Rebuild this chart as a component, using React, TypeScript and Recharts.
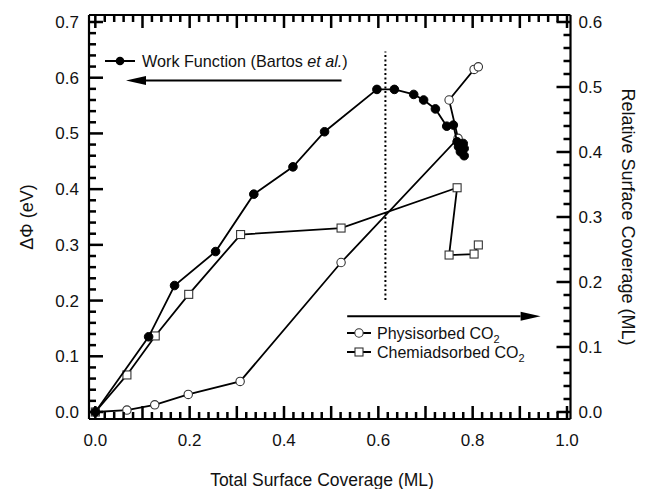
import React from 'react';
import { ComposedChart, Scatter, XAxis, YAxis, ReferenceLine } from 'recharts';

// ---- data ----
const workFunctionX = [0, 0.113, 0.168, 0.255, 0.336, 0.419, 0.486, 0.597, 0.634, 0.675, 0.696, 0.721, 0.745, 0.759, 0.767, 0.78, 0.77, 0.782, 0.774, 0.782];
const workFunctionY = [0, 0.135, 0.227, 0.288, 0.391, 0.44, 0.503, 0.579, 0.579, 0.57, 0.56, 0.544, 0.513, 0.515, 0.485, 0.482, 0.476, 0.473, 0.467, 0.46];

const physX = [0, 0.067, 0.126, 0.197, 0.307, 0.521, 0.769, 0.75, 0.803, 0.812];
const physY = [0, 0.003, 0.011, 0.027, 0.047, 0.23, 0.421, 0.48, 0.527, 0.531];

const chemX = [0, 0.067, 0.127, 0.198, 0.308, 0.521, 0.767, 0.75, 0.803, 0.812];
const chemY = [0, 0.057, 0.117, 0.181, 0.273, 0.283, 0.345, 0.2415, 0.243, 0.257];

const xMajorLabels = [0, 0.2, 0.4, 0.6, 0.8, 1.0];
const leftLabels = [0, 0.1, 0.2, 0.3, 0.4, 0.5, 0.6, 0.7];
const rightLabels = [0, 0.1, 0.2, 0.3, 0.4, 0.5, 0.6];
const MINOR_STEP = 0.02;

const xTicks = Array.from({ length: 51 }, (_, i) => +(i * MINOR_STEP).toFixed(2));
const leftTicks = Array.from({ length: 36 }, (_, i) => +(i * MINOR_STEP).toFixed(2));
const rightTicks = Array.from({ length: 31 }, (_, i) => +(i * MINOR_STEP).toFixed(2));

const toPoints = (xs: number[], ys: number[]) => xs.map((x, i) => ({ x, y: ys[i] }));
const wfData = toPoints(workFunctionX, workFunctionY);
const physData = toPoints(physX, physY);
const chemData = toPoints(chemX, chemY);

const X_DOMAIN: [number, number] = [-0.0134, 1.0074];
const L_DOMAIN: [number, number] = [-0.01256, 0.71256];
const R_DOMAIN: [number, number] = [-0.01077, 0.61077];

const FONT = '"Liberation Sans", Arial, sans-serif';
const TICK_FS = 17;
const TICK_W = 2.5;

const near = (v: number, list: number[]) => list.some((l) => Math.abs(l - v) < 1e-6);
const isTenth = (v: number) => Math.abs(v * 10 - Math.round(v * 10)) < 1e-6;
const fmt = (v: number) => v.toFixed(1);
const num = (v: any) => Number(v);
const ok = (...vals: any[]) => vals.every((v) => v !== undefined && v !== null && !isNaN(Number(v)));

// ---- axis tick renderers: inward mark + label ----
const BottomLabel = (p: any) => {
  const v = num(p.payload.value);
  const x = num(p.x);
  const y = num(p.y);
  const len = isTenth(v) ? 13 : 7;
  return (
    <g>
      <rect x={x - TICK_W / 2} y={y - len} width={TICK_W} height={len} fill="#000" />
      {near(v, xMajorLabels) && (
        <text x={x} y={y + 21} dy="0.35em" textAnchor="middle" fontSize={TICK_FS} fontFamily={FONT} fill="#111">
          {fmt(v)}
        </text>
      )}
    </g>
  );
};
const LeftLabel = (p: any) => {
  const v = num(p.payload.value);
  const x = num(p.x);
  const y = num(p.y);
  const major = near(v, leftLabels);
  const len = major ? 14 : 7;
  return (
    <g>
      <rect x={x} y={y - TICK_W / 2} width={len} height={TICK_W} fill="#000" />
      {major && (
        <text x={x - 10} y={y} dy="0.35em" textAnchor="end" fontSize={TICK_FS} fontFamily={FONT} fill="#111">
          {fmt(v)}
        </text>
      )}
    </g>
  );
};
const RightLabel = (p: any) => {
  const v = num(p.payload.value);
  const x = num(p.x);
  const y = num(p.y);
  const major = near(v, rightLabels);
  const len = major ? 14 : 7;
  return (
    <g>
      <rect x={x - len} y={y - TICK_W / 2} width={len} height={TICK_W} fill="#000" />
      {major && (
        <text x={x + 8} y={y} dy="0.35em" textAnchor="start" fontSize={TICK_FS} fontFamily={FONT} fill="#111">
          {fmt(v)}
        </text>
      )}
    </g>
  );
};

// ---- top-edge inward tick marks via ReferenceLine shapes ----
const makeTopTick = (len: number) => (p: any) => {
  if (!ok(p.x1, p.y1, p.y2)) return <g />;
  const x = num(p.x1);
  const top = Math.min(num(p.y1), num(p.y2));
  return <rect x={x - TICK_W / 2} y={top} width={TICK_W} height={len} fill="#000" />;
};
const TopMajor = makeTopTick(13);
const TopMinor = makeTopTick(7);

const FilledDot = (p: any) => <circle cx={p.cx} cy={p.cy} r={4.3} fill="#000" stroke="#000" strokeWidth={1} />;
const OpenCircle = (p: any) => <circle cx={p.cx} cy={p.cy} r={4.2} fill="#fff" stroke="#333" strokeWidth={1.1} />;
const OpenSquare = (p: any) => <rect x={p.cx - 4} y={p.cy - 4} width={8} height={8} fill="#fff" stroke="#333" strokeWidth={1.1} />;

const Arrow = (p: any) => {
  if (!ok(p.x1, p.y1, p.x2, p.y2)) return <g />;
  const x1 = num(p.x1);
  const y1 = num(p.y1);
  const x2 = num(p.x2);
  const y2 = num(p.y2);
  const dx = x2 - x1;
  const dy = y2 - y1;
  const L = Math.sqrt(dx * dx + dy * dy) || 1;
  const ux = dx / L;
  const uy = dy / L;
  const hl = 20;
  const hw = 4.5;
  const bx = x2 - ux * hl;
  const by = y2 - uy * hl;
  return (
    <g>
      <line x1={x1} y1={y1} x2={bx} y2={by} stroke="#000" strokeWidth={2} />
      <polygon points={`${x2},${y2} ${bx - uy * hw},${by + ux * hw} ${bx + uy * hw},${by - ux * hw}`} fill="#000" />
    </g>
  );
};

const W = 640;
const H = 481;

export default function App() {
  return (
    <div style={{ position: 'relative', width: W, height: H }}>
      <svg
        width={W}
        height={H}
        style={{ position: 'absolute', left: 0, top: 0, pointerEvents: 'none', background: 'transparent' }}
        fontFamily={FONT}
      >
        <text x={19} y={209} dy="0.35em" textAnchor="middle" fontSize={18} fill="#111" transform="rotate(-90 19 209)">
          ΔΦ (eV)
        </text>
        <text x={620} y={209} dy="0.35em" textAnchor="middle" fontSize={18} fill="#111" transform="rotate(90 620 209)">
          Relative Surface Coverage (ML)
        </text>
        <text x={314} y={472} dy="0.35em" textAnchor="middle" fontSize={17.5} fill="#111">
          Total Surface Coverage (ML)
        </text>
        {/* legend: work function */}
        <line x1={97} y1={53} x2={127} y2={53} stroke="#000" strokeWidth={2} />
        <circle cx={112} cy={53} r={4.3} fill="#000" />
        <text x={134} y={53} dy="0.35em" fontSize={16.2} fill="#111">
          Work Function (Bartos <tspan fontStyle="italic">et al.</tspan>)
        </text>
        {/* legend: CO2 */}
        <line x1={339} y1={325} x2={363} y2={325} stroke="#000" strokeWidth={2} />
        <circle cx={351} cy={325} r={4.2} fill="#fff" stroke="#333" strokeWidth={1.1} />
        <text x={369} y={325} dy="0.35em" fontSize={16} fill="#111">
          Physisorbed CO<tspan fontSize={11} dy="4">2</tspan>
        </text>
        <line x1={339} y1={344} x2={363} y2={344} stroke="#000" strokeWidth={2} />
        <rect x={347} y={340} width={8} height={8} fill="#fff" stroke="#333" strokeWidth={1.1} />
        <text x={369} y={344} dy="0.35em" fontSize={16} fill="#111">
          Chemiadsorbed CO<tspan fontSize={11} dy="4">2</tspan>
        </text>
      </svg>
      <div style={{ position: 'absolute', left: 0, top: 0 }}>
        <ComposedChart width={W} height={H} margin={{ top: 0, right: 0, bottom: 0, left: 0 }}>
          <XAxis
            xAxisId="b"
            type="number"
            dataKey="x"
            orientation="bottom"
            domain={X_DOMAIN}
            allowDataOverflow
            ticks={xTicks}
            interval={0}
            height={70}
            tickSize={0}
            tickMargin={0}
            tickLine={false}
            tick={BottomLabel}
            axisLine={{ stroke: '#000', strokeWidth: 2.2 }}
          />
          <XAxis
            xAxisId="t"
            type="number"
            dataKey="x"
            orientation="top"
            domain={X_DOMAIN}
            allowDataOverflow
            ticks={xTicks}
            height={7}
            tick={false}
            tickLine={false}
            axisLine={{ stroke: '#000', strokeWidth: 2.2 }}
          />
          <YAxis
            yAxisId="l"
            type="number"
            dataKey="y"
            orientation="left"
            domain={L_DOMAIN}
            allowDataOverflow
            ticks={leftTicks}
            interval={0}
            width={81}
            tickSize={0}
            tickMargin={0}
            tickLine={false}
            tick={LeftLabel}
            axisLine={{ stroke: '#000', strokeWidth: 2.2 }}
          />
          <YAxis
            yAxisId="r"
            type="number"
            dataKey="y"
            orientation="right"
            domain={R_DOMAIN}
            allowDataOverflow
            ticks={rightTicks}
            interval={0}
            width={77.5}
            tickSize={0}
            tickMargin={0}
            tickLine={false}
            tick={RightLabel}
            axisLine={{ stroke: '#000', strokeWidth: 2.2 }}
          />

          {xTicks.map((v, i) => (
            <ReferenceLine key={`xt${i}`} xAxisId="b" yAxisId="l" x={v} shape={isTenth(v) ? TopMajor : TopMinor} />
          ))}

          <ReferenceLine
            xAxisId="b"
            yAxisId="l"
            segment={[{ x: 0.615, y: 0.201 }, { x: 0.615, y: 0.647 }]}
            stroke="#000"
            strokeWidth={2}
            strokeDasharray="2 2.5"
            ifOverflow="visible"
          />
          <ReferenceLine
            xAxisId="b"
            yAxisId="l"
            segment={[{ x: 0.522, y: 0.595 }, { x: 0.065, y: 0.595 }]}
            shape={Arrow}
            ifOverflow="visible"
          />
          <ReferenceLine
            xAxisId="b"
            yAxisId="l"
            segment={[{ x: 0.534, y: 0.172 }, { x: 0.944, y: 0.172 }]}
            shape={Arrow}
            ifOverflow="visible"
          />
          <Scatter
            xAxisId="b"
            yAxisId="r"
            data={physData}
            line={{ stroke: '#000', strokeWidth: 1.8 }}
            shape={OpenCircle}
            isAnimationActive={false}
          />
          <Scatter
            xAxisId="b"
            yAxisId="r"
            data={chemData}
            line={{ stroke: '#000', strokeWidth: 1.8 }}
            shape={OpenSquare}
            isAnimationActive={false}
          />
          <Scatter
            xAxisId="b"
            yAxisId="l"
            data={wfData}
            line={{ stroke: '#000', strokeWidth: 1.8 }}
            shape={FilledDot}
            isAnimationActive={false}
          />
        </ComposedChart>
      </div>
    </div>
  );
}
